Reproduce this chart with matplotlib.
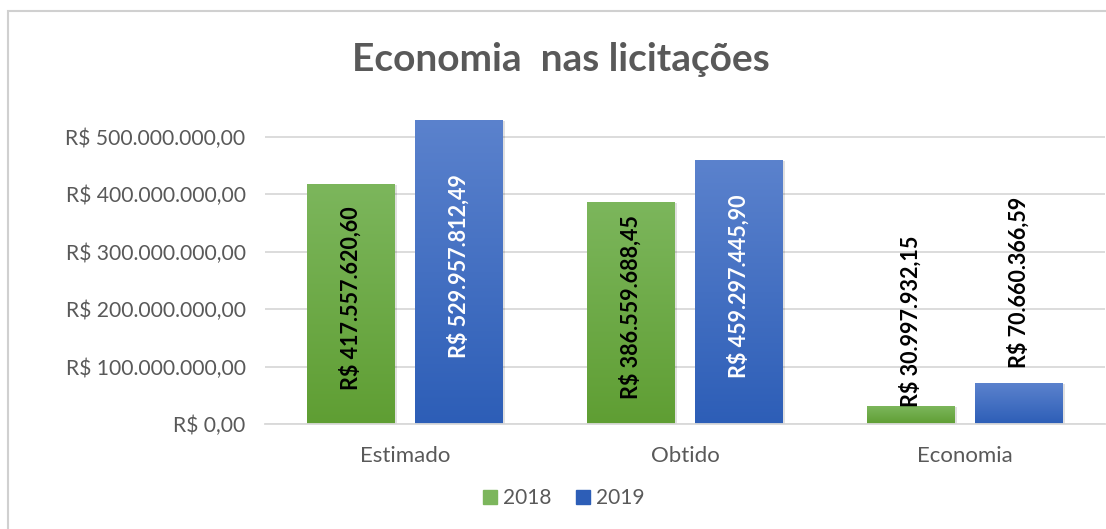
import matplotlib.pyplot as plt
import numpy as np
from matplotlib.colors import LinearSegmentedColormap
from matplotlib.patches import Rectangle

plt.rcParams['font.family'] = ['Lato', 'DejaVu Sans']

categorias = ['Estimado', 'Obtido', 'Economia']
anos = ['2018', '2019']
valores_2018 = [417557620.60, 386559688.45, 30997932.15]
valores_2019 = [529957812.49, 459297445.90, 70660366.59]
rotulos_2018 = ['R$ 417.557.620,60', 'R$ 386.559.688,45', 'R$ 30.997.932,15']
rotulos_2019 = ['R$ 529.957.812,49', 'R$ 459.297.445,90', 'R$ 70.660.366,59']
ticks_y = [0, 100e6, 200e6, 300e6, 400e6, 500e6]
ticks_y_txt = ['R$ 0,00', 'R$ 100.000.000,00', 'R$ 200.000.000,00',
               'R$ 300.000.000,00', 'R$ 400.000.000,00', 'R$ 500.000.000,00']

cinza = '#595959'
verde = ('#5f9e33', '#7cb65c')
azul = ('#2d5eb7', '#5b82cd')

fig = plt.figure(figsize=(11.06, 5.29), dpi=100)
fig.patches.append(Rectangle((8 / 1106, -0.1), 1.2, 1.08, transform=fig.transFigure,
                             fill=False, edgecolor='#d0d0d0', linewidth=1.5))
ax = fig.add_axes([0.2396, 0.1985, 0.7595, 0.597])

x = np.arange(len(categorias))
largura = 0.314
desloc = 0.193

def barras_gradiente(posicoes, valores, cores):
    cmap = LinearSegmentedColormap.from_list('g', [cores[0], cores[1]])
    barras = ax.bar(posicoes, valores, largura, color=cores[0], zorder=2)
    grad = np.linspace(0, 1, 256).reshape(-1, 1)
    for b in barras:
        x0, y0 = b.get_x(), b.get_y()
        w, h = b.get_width(), b.get_height()
        # sombra leve
        ax.add_patch(Rectangle((x0 + 0.006, y0 - 1.5e6), w, h, color='#000000',
                               alpha=0.12, zorder=1.5, linewidth=0))
        im = ax.imshow(grad, extent=[x0, x0 + w, y0, y0 + h], origin='lower',
                       cmap=cmap, aspect='auto', zorder=2.1)
        im.set_clip_path(b)
    return barras

b18 = barras_gradiente(x - desloc, valores_2018, verde)
b19 = barras_gradiente(x + desloc, valores_2019, azul)

ax.set_xlim(-0.5, 2.5)
ax.set_ylim(0, 550e6)
ax.set_yticks(ticks_y)
ax.set_yticklabels(ticks_y_txt, fontsize=15.2, color=cinza)
ax.set_xticks(x)
ax.set_xticklabels(categorias, fontsize=16, color=cinza)
ax.tick_params(axis='both', length=0)
ax.tick_params(axis='y', pad=14)
ax.tick_params(axis='x', pad=16)
ax.grid(axis='y', color='#d9d9d9', linewidth=1.3, zorder=0)
ax.set_axisbelow(True)
for s in ['top', 'right', 'left']:
    ax.spines[s].set_visible(False)
ax.spines['bottom'].set_color('#d9d9d9')
ax.spines['bottom'].set_linewidth(1.3)

# rotulos de dados
for i in range(len(categorias)):
    for pos, val, txt, cor in [(x[i] - desloc, valores_2018[i], rotulos_2018[i], 'black'),
                               (x[i] + desloc, valores_2019[i], rotulos_2019[i], 'white')]:
        if val > 200e6:
            ax.text(pos, val / 2 + 10e6, txt, rotation=90, ha='center', va='center',
                    fontsize=15.5, fontweight='bold', color=cor, zorder=3)
        else:
            ax.text(pos, val + 27e6 if val > 50e6 else val - 2e6, txt, rotation=90,
                    ha='center', va='bottom', fontsize=15.5, fontweight='bold',
                    color='black', zorder=3)

fig.text(0.507, 0.888, 'Economia  nas licitações', ha='center', va='center',
         fontsize=28, fontweight='bold', color=cinza)

leg = fig.legend([Rectangle((0, 0), 1, 1, color=verde[1]), Rectangle((0, 0), 1, 1, color=azul[0])],
                 anos, loc='center', bbox_to_anchor=(0.51, 0.058), ncol=2, frameon=False,
                 fontsize=15, handlelength=0.65, handleheight=0.65, handletextpad=0.3,
                 columnspacing=1.2)
for t in leg.get_texts():
    t.set_color(cinza)

fig.savefig('out.png', dpi=100)
